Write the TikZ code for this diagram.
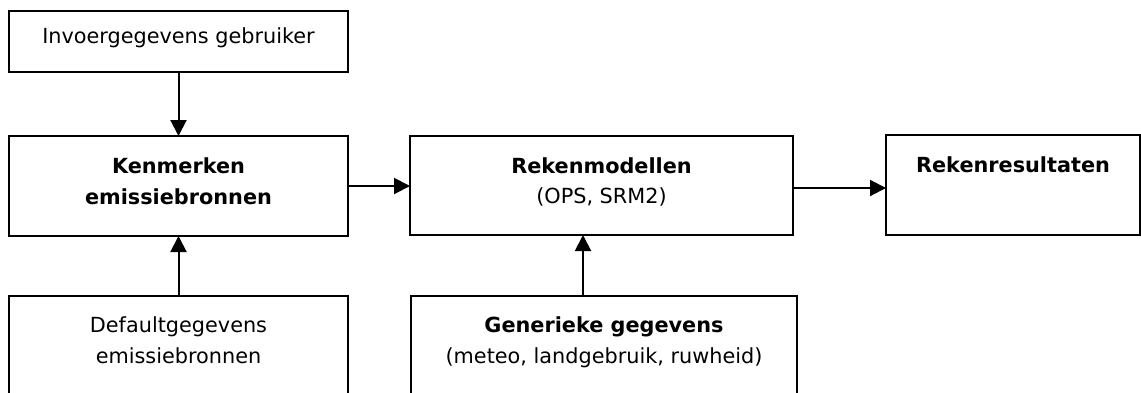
\documentclass[tikz,border=0pt]{standalone}
\usepackage{fontspec}
\setmainfont{DejaVu Sans}
\usetikzlibrary{arrows.meta}
\tikzset{
  box/.style={draw=black, line width=2pt, rectangle, inner sep=0pt, outer sep=0pt},
  lbl/.style={anchor=base, inner sep=0pt, font=\fontsize{20.8}{31}\selectfont},
  blbl/.style={lbl, font=\fontsize{20.8}{31}\selectfont\bfseries},
  arr/.style={line width=2pt, -{Triangle[length=16pt, width=16pt]}}
}
\begin{document}
\begin{tikzpicture}[x=1pt, y=-1pt]
\useasboundingbox (0,0) rectangle (1141,392);
\begin{scope}
\clip (0,0) rectangle (1141,392);
\node[box, minimum width=339pt, minimum height=61pt] (B1) at (178.5,41.5) {};
\node[box, minimum width=339pt, minimum height=100pt] (B2) at (178.5,186) {};
\node[box, minimum width=383pt, minimum height=99pt] (B3) at (601.5,185.5) {};
\node[box, minimum width=254pt, minimum height=100pt] (B4) at (1013,185) {};
\node[box, minimum width=339pt, minimum height=124pt] (B5) at (178.5,358) {};
\node[box, minimum width=386pt, minimum height=124pt] (B6) at (604,358) {};

\node[lbl] (t1) at (178.5,43) {Invoergegevens gebruiker};
\node[blbl] (t2a) at (178.5,173) {Kenmerken};
\node[blbl] (t2b) at (178.5,204) {emissiebronnen};
\node[blbl] (t3a) at (601.5,173) {Rekenmodellen};
\node[lbl] (t3b) at (601.5,203) {(OPS, SRM2)};
\node[blbl] (t4) at (1013,172) {Rekenresultaten};
\node[lbl] (t5a) at (178.5,332) {Defaultgegevens};
\node[lbl] (t5b) at (178.5,363) {emissiebronnen};
\node[blbl] (t6a) at (604,332) {Generieke gegevens};
\node[lbl] (t6b) at (604,363) {(meteo, landgebruik, ruwheid)};

\draw[arr] (B1.south) -- (B2.north);
\draw[arr] (B2.east) -- (B2.east -| B3.west);
\draw[arr] ([yshift=-2.5pt]B3.east) -- ([yshift=-2.5pt]B3.east -| B4.west);
\draw[arr] (B5.north) -- (B2.south);
\draw[arr] ([xshift=-21pt]B6.north) -- ([xshift=-21pt]B6.north |- B3.south);
\end{scope}
\end{tikzpicture}
\end{document}
